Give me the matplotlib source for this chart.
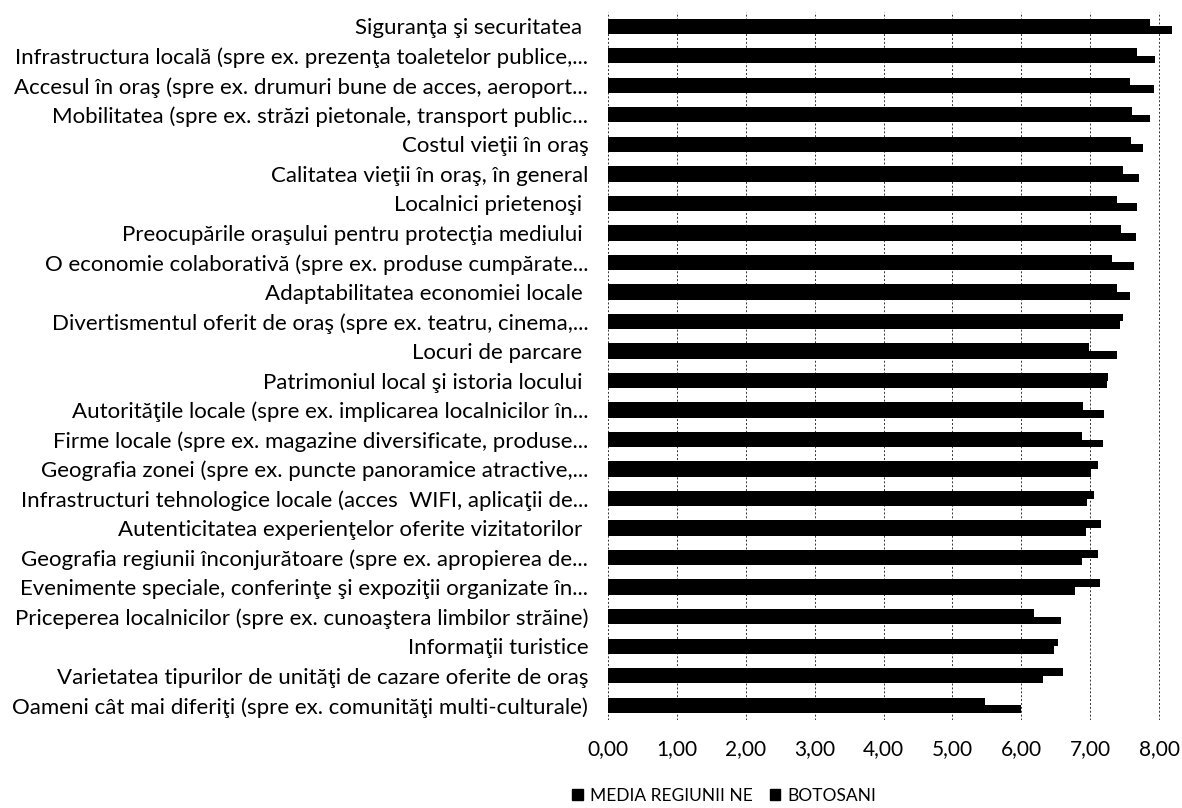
import numpy as np
import matplotlib.pyplot as plt
from matplotlib.patches import Patch

plt.rcParams['font.family'] = ['Lato', 'DejaVu Sans']

# %%
categories = [
    "Siguranţa şi securitatea ",
    "Infrastructura locală (spre ex. prezenţa toaletelor publice,...",
    "Accesul în oraş (spre ex. drumuri bune de acces, aeroport...",
    "Mobilitatea (spre ex. străzi pietonale, transport public...",
    "Costul vieţii în oraş",
    "Calitatea vieţii în oraş, în general",
    "Localnici prietenoşi ",
    "Preocupările oraşului pentru protecţia mediului ",
    "O economie colaborativă (spre ex. produse cumpărate...",
    "Adaptabilitatea economiei locale ",
    "Divertismentul oferit de oraş (spre ex. teatru, cinema,...",
    "Locuri de parcare ",
    "Patrimoniul local şi istoria locului ",
    "Autorităţile locale (spre ex. implicarea localnicilor în...",
    "Firme locale (spre ex. magazine diversificate, produse...",
    "Geografia zonei (spre ex. puncte panoramice atractive,...",
    "Infrastructuri tehnologice locale (acces  WIFI, aplicaţii de...",
    "Autenticitatea experienţelor oferite vizitatorilor ",
    "Geografia regiunii înconjurătoare (spre ex. apropierea de...",
    "Evenimente speciale, conferinţe şi expoziţii organizate în...",
    "Priceperea localnicilor (spre ex. cunoaştera limbilor străine)",
    "Informaţii turistice",
    "Varietatea tipurilor de unităţi de cazare oferite de oraş",
    "Oameni cât mai diferiţi (spre ex. comunităţi multi-culturale)",
]

media_ne = [7.86, 7.68, 7.58, 7.61, 7.59, 7.47, 7.38, 7.45, 7.31, 7.39, 7.48, 6.98,
            7.26, 6.89, 6.88, 7.11, 7.06, 7.15, 7.11, 7.14, 6.18, 6.53, 6.61, 5.47]
botosani = [8.18, 7.94, 7.92, 7.87, 7.76, 7.71, 7.68, 7.66, 7.63, 7.57, 7.43, 7.39,
            7.24, 7.20, 7.19, 7.01, 6.95, 6.93, 6.88, 6.77, 6.58, 6.47, 6.31, 6.00]

xticks = [0, 1, 2, 3, 4, 5, 6, 7, 8]
xticklabels = ["0,00", "1,00", "2,00", "3,00", "4,00", "5,00", "6,00", "7,00", "8,00"]

# %%
fig = plt.figure(figsize=(11.82, 8.08), dpi=100)
ax = fig.add_axes([607.7 / 1182, 1 - 720 / 808, (1180 - 607.7) / 1182, (720 - 11.5) / 808])

y = np.arange(len(categories))
h = 0.26
ax.barh(y - h / 2, media_ne, height=h, color='black', label='MEDIA REGIUNII NE')
ax.barh(y + h / 2, botosani, height=h, color='black', label='BOTOSANI')

ax.set_xlim(0, 8.3)
ax.set_ylim(len(categories) - 0.5, -0.5)
ax.set_yticks(y)
ax.set_yticklabels(categories, fontsize=16)
ax.set_xticks(xticks)
ax.set_xticklabels(xticklabels, fontsize=15)
ax.tick_params(axis='both', length=0)
ax.tick_params(axis='y', pad=14)
ax.tick_params(axis='x', pad=14)

for s in ax.spines.values():
    s.set_visible(False)
ax.set_axisbelow(True)
ax.grid(axis='x', color='#333333', linestyle=(0, (2, 2)), linewidth=0.7)

handles = [Patch(color='black', label='MEDIA REGIUNII NE'), Patch(color='black', label='BOTOSANI')]
fig.legend(handles=handles, loc='center', bbox_to_anchor=(724 / 1182, 1 - 796 / 808),
           ncol=2, frameon=False, fontsize=12.5, handlelength=0.6, handleheight=0.6,
           handletextpad=0.4, columnspacing=1.0)

fig.savefig('out.png', dpi=100)
